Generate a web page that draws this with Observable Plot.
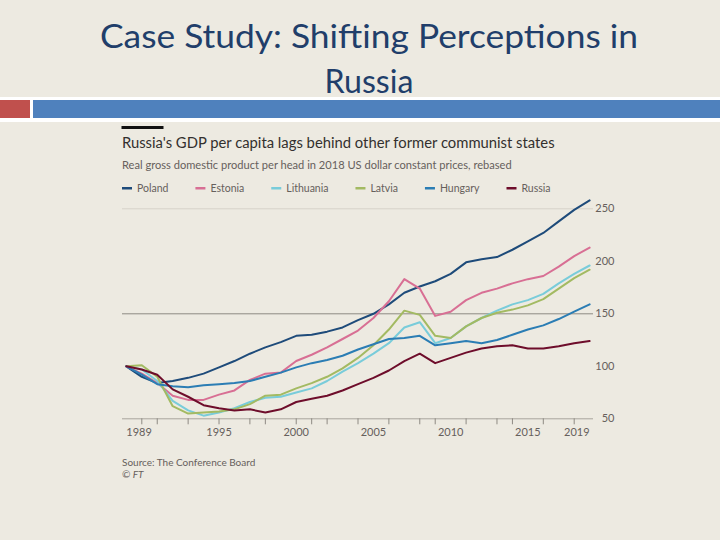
<!DOCTYPE html>
<html><head><meta charset="utf-8">
<script src="https://cdn.jsdelivr.net/npm/d3@7"></script>
<script src="https://cdn.jsdelivr.net/npm/@observablehq/plot@0.6"></script>
<style>
html,body{margin:0;padding:0;background:#EDEAE1;}
#slide{position:relative;width:720px;height:540px;overflow:hidden;background:#EDEAE1;font-family:Lato,"Open Sans",sans-serif;}
#deco{position:absolute;left:0;top:0;}
#chart{position:absolute;left:0;top:190px;}
</style></head>
<body>
<div id="slide">
<svg id="deco" width="720" height="540" xmlns="http://www.w3.org/2000/svg">
  <text x="369" y="48" text-anchor="middle" font-family="Lato" font-size="32" fill="#213E6A" textLength="538" lengthAdjust="spacingAndGlyphs">Case Study: Shifting Perceptions in</text>
  <text x="369" y="93" text-anchor="middle" font-family="Lato" font-size="32" fill="#213E6A" textLength="89" lengthAdjust="spacingAndGlyphs">Russia</text>
  <rect x="0" y="97" width="720" height="25" fill="#FFFFFF"/>
  <rect x="0" y="100" width="30" height="18" fill="#C0504D"/>
  <rect x="33" y="100" width="687" height="18" fill="#4F81BD"/>
  <rect x="121.5" y="126" width="42" height="3" fill="#111111"/>
  <text x="122" y="148" font-family="Lato" font-size="14.8" fill="#33302E">Russia's GDP per capita lags behind other former communist states</text>
  <text x="122" y="169" font-family="Lato" font-size="11.1" fill="#66605C">Real gross domestic product per head in 2018 US dollar constant prices, rebased</text>
  <g id="legend"></g>
  <text x="122" y="466" font-family="Lato" font-size="10" fill="#66605C">Source: The Conference Board</text>
  <text x="122" y="478" font-family="Lato" font-size="10" font-style="italic" fill="#66605C">© FT</text>
</svg>
<div id="chart"></div>
</div>
<script>
const years = [1989,1990,1991,1992,1993,1994,1995,1996,1997,1998,1999,2000,2001,2002,2003,2004,2005,2006,2007,2008,2009,2010,2011,2012,2013,2014,2015,2016,2017,2018,2019];
const poland    = [100,90,84,86,89,93,99,105,112,118,123,129,130,133,137,144,150,159,170,176,181,188,199,202,204,211,219,227,238,249,258];
const estonia   = [100,93,84,72,68,68,73,77,87,93,94,105,111,118,126,134,146,162,183,174,148,152,163,170,174,179,183,186,195,205,213];
const lithuania = [100,97,86,67,58,53,56,60,66,70,71,75,79,86,95,103,112,122,137,142,122,127,138,146,153,159,163,169,179,188,196];
const latvia    = [100,101,90,62,55,56,57,59,64,72,73,79,84,90,98,108,120,135,153,149,129,127,138,146,151,154,158,164,174,184,192];
const hungary   = [100,92,83,81,80,82,83,84,86,90,94,99,103,106,110,116,121,126,127,129,120,122,124,122,125,130,135,139,145,152,159];
const russia    = [100,97,92,78,71,63,60,58,59,56,59,66,69,72,77,83,89,96,105,112,103,108,113,117,119,120,117,117,119,122,124];
const names  = ["Poland","Estonia","Lithuania","Latvia","Hungary","Russia"];
const colors = ["#1E4B7A","#D86F94","#79CCDA","#A3BA62","#2B7DB4","#6E0D2B"];
const xTicks = [1990,1991,1993,1995,1997,1998,2000,2001,2002,2004,2006,2008,2009,2011,2013,2014,2016,2018];
const xLabelsMid = [1995,2000,2005,2010,2015];
const xLabelFirst = [1989];
const xLabelLast = [2019];
const yLabels = [250,200,150,100,50];

const valuesByName = {Poland:poland, Estonia:estonia, Lithuania:lithuania, Latvia:latvia, Hungary:hungary, Russia:russia};
const data = names.flatMap(n => years.map((y,i) => ({year:y, value:valuesByName[n][i], name:n})));

// legend
const ns = "http://www.w3.org/2000/svg";
const lg = document.getElementById("legend");
let lx = 122;
names.forEach((n,i) => {
  const r = document.createElementNS(ns,"rect");
  r.setAttribute("x", lx); r.setAttribute("y", 187); r.setAttribute("width", 10); r.setAttribute("height", 2.5);
  r.setAttribute("fill", colors[i]); lg.appendChild(r);
  const t = document.createElementNS(ns,"text");
  t.setAttribute("x", lx + 15); t.setAttribute("y", 192);
  t.setAttribute("font-family","Lato"); t.setAttribute("font-size","10.5"); t.setAttribute("fill","#66605C");
  t.textContent = n; lg.appendChild(t);
  lx = lx + 15 + t.getComputedTextLength() + 27;
});

const fontStyle = {fontFamily:"Lato", fontSize:11, fill:"#66605C"};
const plot = Plot.plot({
  width:720, height:260,
  marginLeft:122, marginRight:127, marginTop:18.3, marginBottom:31.7,
  x:{domain:[1988.75,2019.25], axis:null},
  y:{domain:[50,250], axis:null},
  color:{domain:names, range:colors},
  style:{background:"transparent", overflow:"visible", fontFamily:"Lato"},
  marks:[
    Plot.ruleY([250],{stroke:"#D6D2C9", strokeWidth:1}),
    Plot.ruleY([150],{stroke:"#8E8A83", strokeWidth:1}),
    Plot.ruleY([50],{stroke:"#A8A49D", strokeWidth:1}),
    Plot.axisX(xTicks,{tickSize:6, tickFormat:()=>"", label:null, stroke:"#8E8A83"}),
    Plot.text(xLabelsMid,{x:d=>d, frameAnchor:"bottom", dy:17, textAnchor:"middle", text:d=>String(d), ...fontStyle}),
    Plot.text(xLabelFirst,{x:d=>d, frameAnchor:"bottom", dy:17, textAnchor:"start", text:d=>String(d), ...fontStyle}),
    Plot.text(xLabelLast,{x:d=>d, frameAnchor:"bottom", dy:17, textAnchor:"end", text:d=>String(d), ...fontStyle}),
    Plot.text(yLabels,{y:d=>d, frameAnchor:"right", dx:21, textAnchor:"end", text:d=>String(d), ...fontStyle}),
    Plot.line(data,{x:"year", y:"value", z:"name", stroke:"name", strokeWidth:2})
  ]
});
document.getElementById("chart").appendChild(plot);
</script>
</body></html>
